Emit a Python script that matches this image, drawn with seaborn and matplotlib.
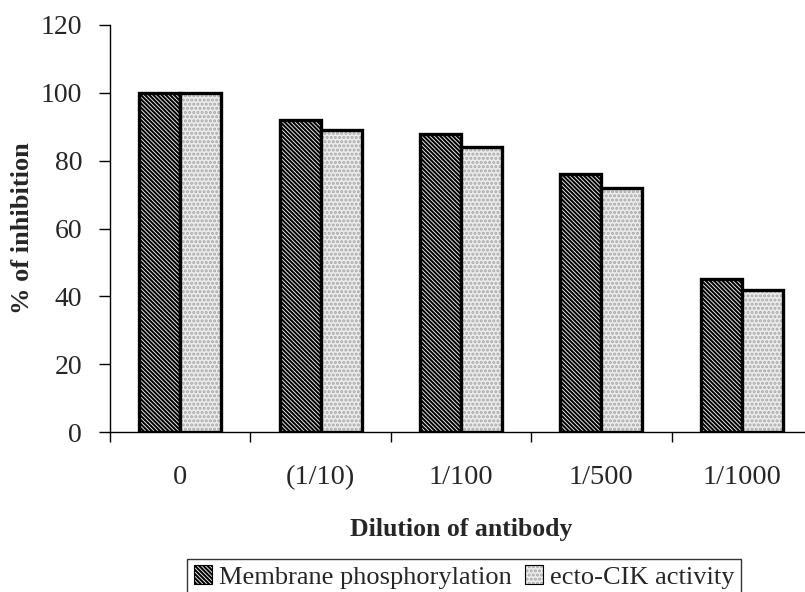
import matplotlib
matplotlib.use("Agg")
import matplotlib.pyplot as plt
import seaborn as sns
import pandas as pd
from matplotlib.patches import Patch

# Data
dilutions = ["0", "(1/10)", "1/100", "1/500", "1/1000"]
membrane_phosphorylation = [100, 92, 88, 76, 45]
ecto_cik_activity = [100, 89, 84, 72, 42]
series_names = ["Membrane phosphorylation", "ecto-CIK activity"]
y_ticks = [0, 20, 40, 60, 80, 100, 120]

df = pd.DataFrame({
    "dilution": dilutions * 2,
    "value": membrane_phosphorylation + ecto_cik_activity,
    "series": [series_names[0]] * len(dilutions) + [series_names[1]] * len(dilutions),
})

sns.set_style("white")
plt.rcParams["font.family"] = ["Liberation Serif", "DejaVu Serif"]
plt.rcParams["hatch.linewidth"] = 1.5

fig = plt.figure(figsize=(8.05, 5.92), dpi=100)
ax = fig.add_axes([110 / 805, 160 / 592, 702 / 805, 407 / 592])

sns.barplot(data=df, x="dilution", y="value", hue="series", order=dilutions,
            hue_order=series_names, width=0.584, gap=0, ax=ax,
            palette=["white", "#eeeeee"], edgecolor="black", linewidth=2.4,
            legend=False, saturation=1)

styles = [
    dict(face="white", hatch="\\\\\\\\\\\\\\\\", hcolor="black"),
    dict(face="#ececec", hatch="....", hcolor="#a8a8a8"),
]


def style_patch(p, st, lw):
    p.set_facecolor(st["face"])
    p.set_hatch(st["hatch"])
    p.set_edgecolor("black")
    p.set_linewidth(lw)
    if hasattr(p, "set_hatchcolor"):
        p.set_hatchcolor(st["hcolor"])
    else:
        p._hatch_color = matplotlib.colors.to_rgba(st["hcolor"])


for cont, st in zip(ax.containers, styles):
    for p in cont:
        style_patch(p, st, 2.4)

ax.set_ylim(0, 120)
ax.set_yticks(y_ticks)
ax.set_xlim(-0.5, len(dilutions) - 0.5)

# Ticks on category boundaries, labels centred on groups
ax.set_xticks([i - 0.5 for i in range(len(dilutions) + 1)])
ax.set_xticklabels([])
ax.set_xticks(range(len(dilutions)), minor=True)
ax.set_xticklabels(dilutions, minor=True)
ax.tick_params(axis="x", which="major", bottom=True, direction="out", length=7,
               width=1, color="black")
ax.tick_params(axis="x", which="minor", bottom=True, length=0, pad=24, labelsize=20.5)
ax.tick_params(axis="y", left=True, direction="out", length=8, width=1,
               color="black", labelsize=20, pad=12)

for s in ["top", "right"]:
    ax.spines[s].set_visible(False)
for s in ["left", "bottom"]:
    ax.spines[s].set_color("black")
    ax.spines[s].set_linewidth(1.0)

ax.set_xlabel("Dilution of antibody", fontsize=18.5, fontweight="bold", labelpad=20)
ax.set_ylabel("% of inhibition", fontsize=19, fontweight="bold", labelpad=5)

handles = []
for st in styles:
    h = Patch(facecolor=st["face"], edgecolor="black", hatch=st["hatch"], linewidth=0.8)
    handles.append(h)
leg = fig.legend(handles, series_names, loc="center", bbox_to_anchor=(464 / 805, 1 - 577 / 592),
                 ncol=2, frameon=True, fancybox=False, fontsize=19, handlelength=0.7,
                 handleheight=0.7, handletextpad=0.25, columnspacing=0.5,
                 borderpad=0.25, borderaxespad=0)
leg.get_frame().set_edgecolor("black")
leg.get_frame().set_linewidth(1.0)
for h, st in zip(leg.legend_handles, styles):
    if hasattr(h, "set_hatchcolor"):
        h.set_hatchcolor(st["hcolor"])
    else:
        h._hatch_color = matplotlib.colors.to_rgba(st["hcolor"])

fig.savefig("out.png", dpi=100)
